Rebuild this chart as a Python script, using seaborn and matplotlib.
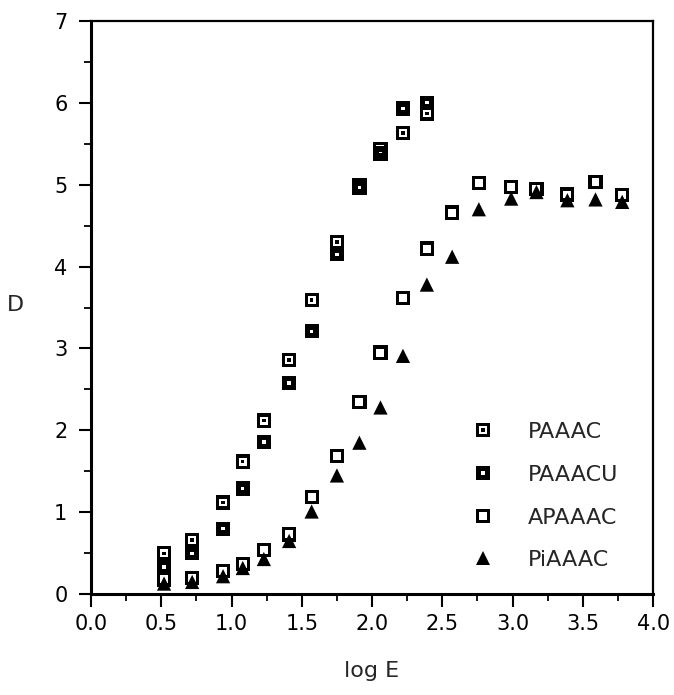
import numpy as np
import pandas as pd
import matplotlib
matplotlib.use("Agg")
import matplotlib.pyplot as plt
import seaborn as sns
from matplotlib.path import Path
from matplotlib.ticker import MultipleLocator, FormatStrFormatter

# log E positions
log_e = [0.52, 0.72, 0.94, 1.08, 1.23, 1.41, 1.57, 1.75, 1.91, 2.06, 2.22, 2.39,
         2.57, 2.76, 2.99, 3.17, 3.39, 3.59, 3.78]

paaac = [0.50, 0.66, 1.12, 1.62, 2.12, 2.86, 3.59, 4.30, 5.00, 5.43, 5.63, 5.87]
paaacu = [0.33, 0.50, 0.80, 1.29, 1.86, 2.58, 3.21, 4.15, 4.96, 5.38, 5.93, 6.00]
apaaac = [0.18, 0.20, 0.28, 0.37, 0.54, 0.73, 1.19, 1.69, 2.35, 2.95, 3.62, 4.22,
          4.66, 5.02, 4.97, 4.95, 4.88, 5.03, 4.87]
piaaac = [0.13, 0.15, 0.22, 0.32, 0.43, 0.65, 1.01, 1.45, 1.85, 2.28, 2.91, 3.78,
          4.12, 4.70, 4.83, 4.91, 4.81, 4.82, 4.79]

names = ["PAAAC", "PAAACU", "APAAAC", "PiAAAC"]
series = [paaac, paaacu, apaaac, piaaac]

rows = []
for name, vals in zip(names, series):
    for x, y in zip(log_e, vals):
        rows.append({"log E": x, "D": y, "compound": name})
df = pd.DataFrame(rows)


def _box(a, ccw=True):
    pts = [(-a, -a), (a, -a), (a, a), (-a, a)]
    if not ccw:
        pts = pts[::-1]
    return pts + [pts[0]]


def _marker(*parts):
    verts, codes = [], []
    for p in parts:
        verts += p
        codes += [Path.MOVETO, Path.LINETO, Path.LINETO, Path.LINETO, Path.CLOSEPOLY]
    return Path(verts, codes)


# square ring / ring with dot / filled square with a pin hole
markers = {
    "PAAAC": _marker(_box(0.5), _box(0.28, False), _box(0.12)),
    "PAAACU": _marker(_box(0.5), _box(0.12, False)),
    "APAAAC": _marker(_box(0.5), _box(0.28, False)),
    "PiAAAC": "^",
}

sns.set_style("ticks")
plt.rcParams["font.family"] = ["DejaVu Sans"]

fig, ax = plt.subplots(figsize=(6.74, 6.95), dpi=100)
fig.subplots_adjust(left=0.135, right=0.969, bottom=0.145, top=0.970)

sns.scatterplot(data=df, x="log E", y="D", style="compound", style_order=names,
                markers=markers, color="black", s=105, linewidth=0,
                edgecolor="none", ax=ax)

ax.set_xlim(0, 4)
ax.set_ylim(0, 7)
ax.xaxis.set_major_locator(MultipleLocator(0.5))
ax.xaxis.set_minor_locator(MultipleLocator(0.25))
ax.xaxis.set_major_formatter(FormatStrFormatter("%.1f"))
ax.yaxis.set_major_locator(MultipleLocator(1))
ax.yaxis.set_minor_locator(MultipleLocator(0.5))

ax.tick_params(which="major", direction="out", length=9, width=1.5,
               labelsize=15, color="black", labelcolor="black")
ax.tick_params(axis="x", which="major", pad=5)
ax.tick_params(axis="y", which="major", pad=8)
ax.tick_params(which="minor", direction="out", length=5, width=1.3, color="black")

for side in ["left", "bottom"]:
    ax.spines[side].set_linewidth(2.2)
for side in ["top", "right"]:
    ax.spines[side].set_linewidth(1.6)
for sp in ax.spines.values():
    sp.set_color("black")
    sp.set_visible(True)

ax.set_xlabel("log E", fontsize=16, labelpad=20)
ax.set_ylabel("D", fontsize=16, rotation=0, labelpad=40, va="center")
ax.yaxis.set_label_coords(-0.135, 0.505)

handles, labels = ax.get_legend_handles_labels()
for h in handles:
    try:
        h.set_markeredgewidth(0)
    except AttributeError:
        pass
ax.legend(handles, labels, loc="center left", bbox_to_anchor=(0.678, 0.171),
          frameon=False, fontsize=16, handlelength=1.0, handletextpad=1.5,
          labelspacing=1.02, borderpad=0, borderaxespad=0)

fig.savefig("out.png", dpi=100)
